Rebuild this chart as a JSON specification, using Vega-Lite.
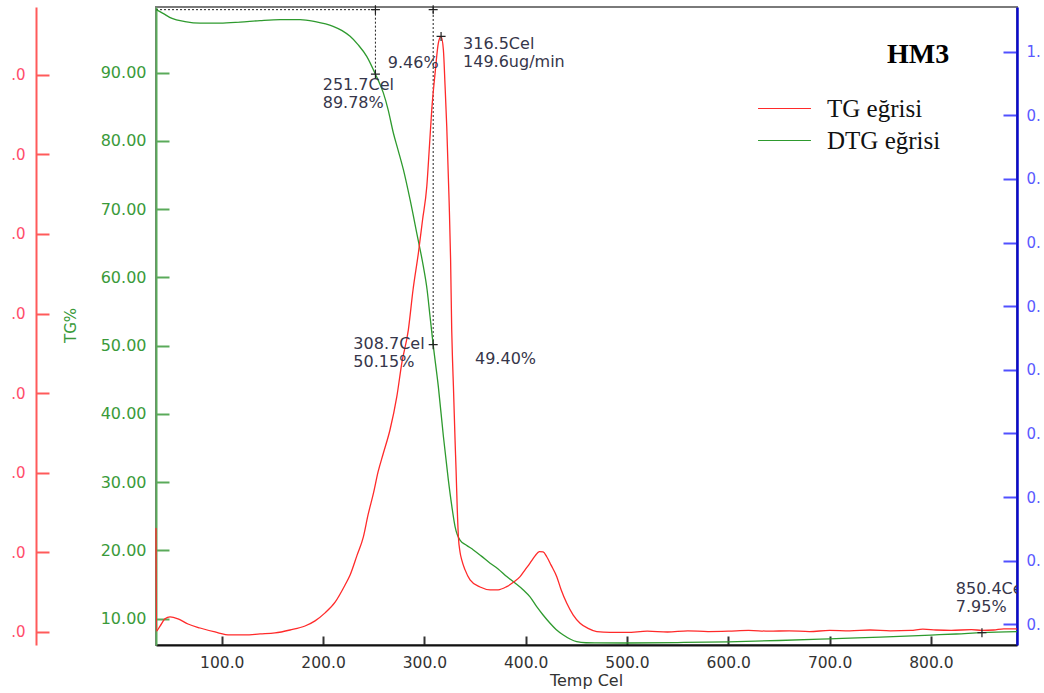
{
  "$schema": "https://vega.github.io/schema/vega-lite/v6.json",
  "width": 861,
  "height": 638,
  "autosize": {"type": "none"},
  "padding": {"left": 156, "top": 7, "right": 27, "bottom": 48},
  "background": "white",
  "config": {
    "view": {"stroke": "#7a7a7a", "strokeWidth": 2},
    "font": "DejaVu Sans",
    "axis": {"grid": false}
  },
  "datasets": {
    "tg": [
      {"T": 35.1, "TG": 99.25}, {"T": 42.0, "TG": 98.7}, {"T": 50.9, "TG": 97.95}, {"T": 63.7, "TG": 97.5},
      {"T": 78.6, "TG": 97.27}, {"T": 98.3, "TG": 97.27}, {"T": 118.1, "TG": 97.42}, {"T": 137.8, "TG": 97.64},
      {"T": 157.6, "TG": 97.78}, {"T": 177.3, "TG": 97.78}, {"T": 192.1, "TG": 97.49}, {"T": 209.9, "TG": 96.8},
      {"T": 218.8, "TG": 96.17}, {"T": 226.7, "TG": 95.33}, {"T": 234.5, "TG": 94.12}, {"T": 243.1, "TG": 92.4},
      {"T": 251.7, "TG": 89.78}, {"T": 259.5, "TG": 87.04}, {"T": 264.2, "TG": 84.6}, {"T": 269.4, "TG": 81.17},
      {"T": 274.0, "TG": 78.7}, {"T": 279.3, "TG": 75.79}, {"T": 285.9, "TG": 71.39}, {"T": 292.5, "TG": 66.51},
      {"T": 299.0, "TG": 61.61}, {"T": 302.7, "TG": 58.2}, {"T": 305.6, "TG": 54.28}, {"T": 308.7, "TG": 50.15},
      {"T": 313.8, "TG": 44.0}, {"T": 318.8, "TG": 36.7}, {"T": 323.7, "TG": 30.3}, {"T": 326.9, "TG": 26.7},
      {"T": 330.3, "TG": 23.5}, {"T": 335.2, "TG": 21.5}, {"T": 341.2, "TG": 20.8}, {"T": 348.4, "TG": 20.07},
      {"T": 356.0, "TG": 19.2}, {"T": 364.9, "TG": 18.12}, {"T": 372.8, "TG": 17.29}, {"T": 381.3, "TG": 16.16},
      {"T": 389.5, "TG": 15.23}, {"T": 397.7, "TG": 14.21}, {"T": 404.3, "TG": 13.2}, {"T": 410.9, "TG": 11.76},
      {"T": 417.2, "TG": 10.54}, {"T": 424.1, "TG": 9.33}, {"T": 430.0, "TG": 8.42}, {"T": 437.2, "TG": 7.61},
      {"T": 443.8, "TG": 7.02}, {"T": 450.4, "TG": 6.63}, {"T": 459.6, "TG": 6.47}, {"T": 470.2, "TG": 6.45},
      {"T": 500, "TG": 6.43}, {"T": 550, "TG": 6.5}, {"T": 600, "TG": 6.6}, {"T": 650, "TG": 6.8},
      {"T": 700, "TG": 7.05}, {"T": 750, "TG": 7.3}, {"T": 800, "TG": 7.6}, {"T": 825, "TG": 7.75},
      {"T": 850.4, "TG": 7.95}, {"T": 885, "TG": 8.1}
    ],
    "dtg": [
      {"T": 35.1, "DTG": 26.1}, {"T": 35.6, "DTG": 0.25}, {"T": 39.1, "DTG": 1.5}, {"T": 44.0, "DTG": 3.3},
      {"T": 49.0, "DTG": 3.8}, {"T": 56.9, "DTG": 3.3}, {"T": 66.7, "DTG": 2.0}, {"T": 78.6, "DTG": 1.0},
      {"T": 93.4, "DTG": 0.0}, {"T": 108.2, "DTG": -0.75}, {"T": 123.0, "DTG": -0.75}, {"T": 137.8, "DTG": -0.5},
      {"T": 152.6, "DTG": -0.25}, {"T": 167.4, "DTG": 0.5}, {"T": 182.2, "DTG": 1.5}, {"T": 192.1, "DTG": 2.8},
      {"T": 202.0, "DTG": 4.8}, {"T": 211.9, "DTG": 7.5}, {"T": 221.7, "DTG": 11.8}, {"T": 226.7, "DTG": 14.3},
      {"T": 233.6, "DTG": 19.3}, {"T": 239.8, "DTG": 23.9}, {"T": 244.4, "DTG": 29.4}, {"T": 249.7, "DTG": 34.8},
      {"T": 254.3, "DTG": 40.2}, {"T": 259.5, "DTG": 44.9}, {"T": 266.1, "DTG": 50.8}, {"T": 272.8, "DTG": 59.1},
      {"T": 277.7, "DTG": 67.5}, {"T": 284.2, "DTG": 75.9}, {"T": 288.8, "DTG": 85.9}, {"T": 294.1, "DTG": 95.2},
      {"T": 298.2, "DTG": 103.5}, {"T": 302.4, "DTG": 111.9}, {"T": 305.1, "DTG": 122.4}, {"T": 307.3, "DTG": 131.2},
      {"T": 310.6, "DTG": 140.4}, {"T": 313.8, "DTG": 147.9}, {"T": 316.5, "DTG": 149.6}, {"T": 318.8, "DTG": 146.2},
      {"T": 320.4, "DTG": 137.4}, {"T": 322.1, "DTG": 127.0}, {"T": 324.4, "DTG": 108.5}, {"T": 325.9, "DTG": 93.5},
      {"T": 327.0, "DTG": 75.9}, {"T": 327.8, "DTG": 68.3}, {"T": 328.7, "DTG": 61.6}, {"T": 330.3, "DTG": 48.2},
      {"T": 331.3, "DTG": 40.7}, {"T": 332.5, "DTG": 30.7}, {"T": 333.6, "DTG": 23.9}, {"T": 335.2, "DTG": 20.1},
      {"T": 336.9, "DTG": 18.1}, {"T": 340.2, "DTG": 15.6}, {"T": 345.1, "DTG": 13.1}, {"T": 355.0, "DTG": 11.3},
      {"T": 364.9, "DTG": 10.6}, {"T": 372.8, "DTG": 10.6}, {"T": 381.3, "DTG": 11.4}, {"T": 388.5, "DTG": 12.6},
      {"T": 394.5, "DTG": 13.9}, {"T": 399.4, "DTG": 15.6}, {"T": 404.3, "DTG": 17.3}, {"T": 409.3, "DTG": 19.1},
      {"T": 413.5, "DTG": 20.2}, {"T": 417.2, "DTG": 20.1}, {"T": 420.8, "DTG": 18.9}, {"T": 425.1, "DTG": 16.8},
      {"T": 430.7, "DTG": 13.9}, {"T": 435.0, "DTG": 10.6}, {"T": 440.6, "DTG": 7.2}, {"T": 446.8, "DTG": 4.3},
      {"T": 453.7, "DTG": 2.2}, {"T": 461.6, "DTG": 0.9}, {"T": 470.2, "DTG": 0.1}, {"T": 483.3, "DTG": -0.1},
      {"T": 500, "DTG": -0.1}, {"T": 520, "DTG": 0.2}, {"T": 540, "DTG": 0.0}, {"T": 560, "DTG": 0.3},
      {"T": 580, "DTG": 0.1}, {"T": 600, "DTG": 0.2}, {"T": 620, "DTG": 0.4}, {"T": 640, "DTG": 0.2},
      {"T": 660, "DTG": 0.3}, {"T": 680, "DTG": 0.1}, {"T": 700, "DTG": 0.4}, {"T": 720, "DTG": 0.3},
      {"T": 740, "DTG": 0.5}, {"T": 760, "DTG": 0.3}, {"T": 780, "DTG": 0.4}, {"T": 792, "DTG": 0.7},
      {"T": 805, "DTG": 0.5}, {"T": 820, "DTG": 0.4}, {"T": 840, "DTG": 0.6}, {"T": 850.4, "DTG": 0.4},
      {"T": 862, "DTG": 0.5}, {"T": 872, "DTG": 0.8}, {"T": 885, "DTG": 0.8}
    ],
    "guides": [
      {"T": 35.1, "TG": 99.24, "T2": 251.7, "TG2": 99.24},
      {"T": 251.7, "TG": 99.24, "T2": 251.7, "TG2": 89.78},
      {"T": 308.7, "TG": 99.63, "T2": 308.7, "TG2": 50.15}
    ],
    "crosses": [
      {"T": 251.7, "TG": 89.78}, {"T": 308.7, "TG": 50.15}, {"T": 251.7, "TG": 99.24},
      {"T": 308.7, "TG": 99.24}, {"T": 850.4, "TG": 7.95}
    ],
    "peak": [{"T": 316.5, "DTG": 149.6}],
    "notes": [
      {"T": 199.7, "TG": 88.18, "label": "251.7Cel"},
      {"T": 199.7, "TG": 85.54, "label": "89.78%"},
      {"T": 263.9, "TG": 91.44, "label": "9.46%"},
      {"T": 338.2, "TG": 94.22, "label": "316.5Cel"},
      {"T": 338.2, "TG": 91.52, "label": "149.6ug/min"},
      {"T": 229.9, "TG": 50.32, "label": "308.7Cel"},
      {"T": 229.9, "TG": 47.68, "label": "50.15%"},
      {"T": 350.0, "TG": 48.03, "label": "49.40%"},
      {"T": 824.6, "TG": 14.4, "label": "850.4Cel"},
      {"T": 824.6, "TG": 11.76, "label": "7.95%"}
    ],
    "heading": [{"T": 787.4, "TG": 92.54, "label": "HM3"}],
    "blank": [{"T": 500, "v": 0.5}]
  },
  "encoding": {
    "x": {
      "field": "T", "type": "quantitative",
      "scale": {"domain": [35.1, 885], "nice": false, "zero": false},
      "axis": {
        "values": [100, 200, 300, 400, 500, 600, 700, 800], "format": ".1f",
        "tickSize": -9, "tickWidth": 2, "tickColor": "#333", "domainColor": "#111", "domainWidth": 2,
        "labelColor": "#333", "labelFont": "DejaVu Sans", "labelFontSize": 15.5, "labelPadding": 19,
        "title": "Temp Cel", "titleColor": "#333", "titleFont": "DejaVu Sans", "titleFontSize": 16, "titleFontWeight": "normal",
        "titleX": 430, "titleY": 35, "titleAlign": "center", "titleBaseline": "middle"
      }
    }
  },
  "layer": [
    {
      "data": {"name": "guides"},
      "mark": {"type": "rule", "strokeDash": [2, 2], "color": "#222", "strokeWidth": 1},
      "encoding": {
        "x2": {"field": "T2"},
        "y": {"field": "TG", "type": "quantitative", "scale": {"domain": [6.14, 99.63], "nice": false, "zero": false}, "axis": null},
        "y2": {"field": "TG2"}
      }
    },
    {
      "data": {"name": "tg"},
      "mark": {"type": "line", "strokeWidth": 1.3, "interpolate": "monotone"},
      "encoding": {
        "y": {
          "field": "TG", "type": "quantitative",
          "scale": {"domain": [6.14, 99.63], "nice": false, "zero": false},
          "axis": {
            "orient": "left", "values": [10, 20, 30, 40, 50, 60, 70, 80, 90], "format": ".2f",
            "tickSize": -13, "tickWidth": 2, "tickColor": "#5aaa5a", "domainColor": "#5aaa5a", "domainWidth": 2,
            "labelColor": "#3a9a3a", "labelFont": "DejaVu Sans", "labelFontSize": 16, "labelPadding": 23,
            "title": "TG%", "titleColor": "#3a9a3a", "titleFont": "DejaVu Sans", "titleFontSize": 15, "titleFontWeight": "normal",
            "titleX": -86, "titleY": 318, "titleAngle": -90, "titleAlign": "center", "titleBaseline": "middle"
          }
        },
        "color": {
          "datum": "DTG eğrisi", "type": "nominal",
          "scale": {"domain": ["TG eğrisi", "DTG eğrisi"], "range": ["#ff2a2a", "#2e9a2e"]},
          "legend": {
            "orient": "none", "legendX": 616, "legendY": 89, "title": null, "padding": 0,
            "symbolType": "M-5,0H5", "symbolSize": 112, "symbolStrokeWidth": 1.2,
            "labelFont": "Liberation Serif", "labelFontSize": 25, "labelColor": "#111", "labelOffset": 30,
            "rowPadding": 6
          }
        }
      }
    },
    {
      "data": {"name": "dtg"},
      "mark": {"type": "line", "strokeWidth": 1.3, "interpolate": "monotone"},
      "encoding": {
        "y": {
          "field": "DTG", "type": "quantitative",
          "scale": {"domain": [-3.27, 157.0], "nice": false, "zero": false},
          "axis": {
            "orient": "left", "offset": 120, "values": [0, 20, 40, 60, 80, 100, 120, 140],
            "labelExpr": "slice(format(datum.value, '.1f'), -2)",
            "tickSize": -13, "tickWidth": 2, "tickColor": "#ff5a5a", "domainColor": "#ff5a5a", "domainWidth": 2,
            "labelColor": "#ff4d6a", "labelFont": "DejaVu Sans", "labelFontSize": 15, "labelPadding": 24, "title": null
          }
        },
        "color": {
          "datum": "TG eğrisi", "type": "nominal",
          "scale": {"domain": ["TG eğrisi", "DTG eğrisi"], "range": ["#ff2a2a", "#2e9a2e"]}
        }
      }
    },
    {
      "data": {"name": "crosses"},
      "mark": {"type": "point", "shape": "M-1,0H1M0,-1V1", "size": 81, "filled": false, "stroke": "#222", "strokeWidth": 1.2, "opacity": 1},
      "encoding": {
        "y": {"field": "TG", "type": "quantitative", "scale": {"domain": [6.14, 99.63], "nice": false, "zero": false}, "axis": null}
      }
    },
    {
      "data": {"name": "peak"},
      "mark": {"type": "point", "shape": "M-1,0H1M0,-1V1", "size": 81, "filled": false, "stroke": "#222", "strokeWidth": 1.2, "opacity": 1},
      "encoding": {
        "y": {"field": "DTG", "type": "quantitative", "scale": {"domain": [-3.27, 157.0], "nice": false, "zero": false}, "axis": null}
      }
    },
    {
      "data": {"name": "notes"},
      "mark": {"type": "text", "align": "left", "baseline": "middle", "font": "DejaVu Sans", "fontSize": 16, "color": "#36364a", "clip": true},
      "encoding": {
        "y": {"field": "TG", "type": "quantitative", "scale": {"domain": [6.14, 99.63], "nice": false, "zero": false}, "axis": null},
        "text": {"field": "label"}
      }
    },
    {
      "data": {"name": "heading"},
      "mark": {"type": "text", "align": "center", "baseline": "middle", "font": "Liberation Serif", "fontSize": 28, "fontWeight": "bold", "color": "#000"},
      "encoding": {
        "y": {"field": "TG", "type": "quantitative", "scale": {"domain": [6.14, 99.63], "nice": false, "zero": false}, "axis": null},
        "text": {"field": "label"}
      }
    },
    {
      "data": {"name": "blank"},
      "mark": {"type": "point", "opacity": 0},
      "encoding": {
        "y": {
          "field": "v", "type": "quantitative",
          "scale": {"domain": [0.0675, 1.0703], "nice": false, "zero": false},
          "axis": {
            "orient": "right", "values": [0.1, 0.2, 0.3, 0.4, 0.5, 0.6, 0.7, 0.8, 0.9, 1.0],
            "labelExpr": "slice(format(datum.value, '.1f'), 0, 2)",
            "tickSize": -14, "tickWidth": 2, "tickColor": "#5050ff", "domainColor": "#0a0acc", "domainWidth": 2.5,
            "labelColor": "#5a5aff", "labelFont": "DejaVu Sans", "labelFontSize": 15, "labelPadding": 23, "title": null
          }
        }
      }
    }
  ],
  "resolve": {"scale": {"y": "independent"}, "axis": {"y": "independent"}}
}
